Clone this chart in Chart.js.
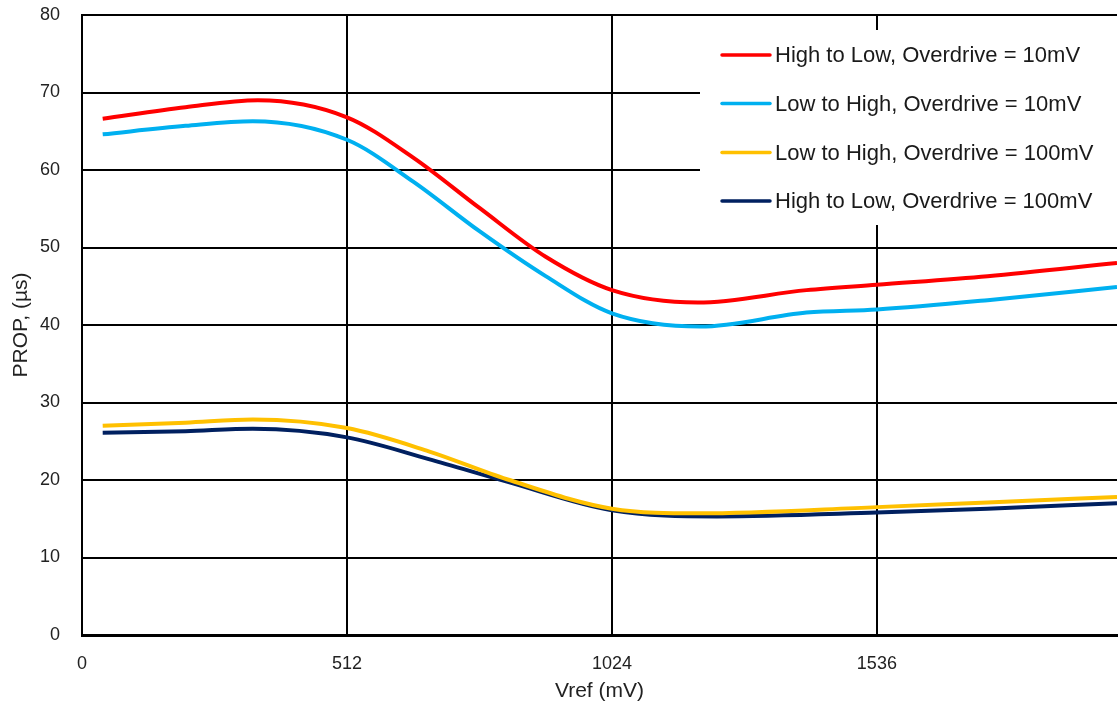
<!DOCTYPE html>
<html>
<head>
<meta charset="utf-8">
<script src="https://cdn.jsdelivr.net/npm/chart.js@4/dist/chart.umd.min.js"></script>
<style>
html,body{margin:0;padding:0;background:#fff;}
#wrap{width:1119px;height:704px;position:relative;}
</style>
</head>
<body>
<div id="wrap"><canvas id="c" width="1119" height="704"></canvas></div>
<script>
// ---- data ----
const xTicks = [0, 512, 1024, 1536];
const yTicks = [0, 10, 20, 30, 40, 50, 60, 70, 80];
const seriesNames = [
  "High to Low, Overdrive = 10mV",
  "Low to High, Overdrive = 10mV",
  "Low to High, Overdrive = 100mV",
  "High to Low, Overdrive = 100mV"
];
const seriesColors = ["#FF0000", "#00B0F0", "#FFC000", "#002060"];

const hl10X = [40, 200, 340, 512, 640, 768, 896, 1024, 1190, 1400, 1536, 1750, 2000];
const hl10Y = [66.6, 68.1, 69.0, 66.8, 61.6, 55.1, 48.8, 44.5, 42.9, 44.5, 45.2, 46.3, 48.0];

const lh10X = [40, 200, 330, 512, 640, 768, 896, 1024, 1195, 1400, 1536, 1750, 2000];
const lh10Y = [64.6, 65.7, 66.3, 63.9, 58.5, 52.1, 46.3, 41.5, 39.8, 41.6, 42.0, 43.2, 44.9];

const lh100X = [40, 200, 330, 512, 670, 821, 1024, 1192, 1536, 1750, 2000];
const lh100Y = [27.0, 27.4, 27.8, 26.7, 23.7, 20.1, 16.3, 15.7, 16.5, 17.1, 17.8];

const hl100X = [40, 200, 330, 512, 670, 821, 1024, 1227, 1536, 1750, 2000];
const hl100Y = [26.1, 26.3, 26.6, 25.5, 22.7, 19.8, 16.1, 15.3, 15.8, 16.3, 17.0];

const xs = [hl10X, lh10X, lh100X, hl100X];
const ys = [hl10Y, lh10Y, lh100Y, hl100Y];

const FONT = '"Liberation Sans", Arial, sans-serif';

// ---- legend plugin (drawn inside plot area with white background) ----
const insideLegend = {
  id: 'insideLegend',
  afterDatasetsDraw(chart) {
    const ctx = chart.ctx;
    const area = chart.chartArea;
    ctx.save();
    ctx.fillStyle = '#fff';
    ctx.fillRect(700, 30, area.right - 700 + 2, 195);
    const rowsY = [55, 103.5, 152.5, 201];
    ctx.font = '22px ' + FONT;
    ctx.textBaseline = 'middle';
    ctx.textAlign = 'left';
    seriesNames.forEach((n, i) => {
      ctx.strokeStyle = seriesColors[i];
      ctx.lineWidth = 3.5;
      ctx.lineCap = 'round';
      ctx.beginPath();
      ctx.moveTo(722, rowsY[i]);
      ctx.lineTo(770, rowsY[i]);
      ctx.stroke();
      ctx.fillStyle = '#1a1a1a';
      ctx.fillText(n, 775, rowsY[i] + 1);
    });
    ctx.restore();
  }
};

const datasets = seriesNames.map((n, i) => ({
  label: n,
  data: xs[i].map((x, j) => ({x: x, y: ys[i][j]})),
  borderColor: seriesColors[i],
  backgroundColor: seriesColors[i],
  borderWidth: 4,
  pointRadius: 0,
  cubicInterpolationMode: 'monotone',
  fill: false
}));

new Chart(document.getElementById('c'), {
  type: 'line',
  data: { datasets: datasets },
  options: {
    responsive: false,
    animation: false,
    devicePixelRatio: 1,
    layout: { padding: { top: 15, right: 2, left: 0, bottom: 0 } },
    plugins: { legend: { display: false }, tooltip: { enabled: false } },
    scales: {
      x: {
        type: 'linear',
        min: 0, max: 2000,
        afterBuildTicks: s => { s.ticks = xTicks.map(v => ({value: v})); },
        afterFit: s => { s.height = 69; s.paddingLeft = 0; s.paddingRight = 0; },
        grid: { color: '#000', lineWidth: 2, drawTicks: false },
        border: { color: '#000', width: 3 },
        ticks: { color: '#222', padding: 18, maxRotation: 0,
                 callback: v => String(v),
                 font: { family: FONT, size: 18 } },
        title: { display: true, text: 'Vref (mV)', color: '#222', padding: { top: 0, bottom: 0 },
                 font: { family: FONT, size: 21 } }
      },
      y: {
        min: 0, max: 80,
        afterBuildTicks: s => { s.ticks = yTicks.map(v => ({value: v})); },
        afterFit: s => { s.width = 82; s.paddingTop = 0; s.paddingBottom = 0; },
        grid: { color: '#000', lineWidth: 2, drawTicks: false },
        border: { color: '#000', width: 2 },
        ticks: { color: '#222', padding: 22,
                 callback: v => String(v),
                 font: { family: FONT, size: 18 } },
        title: { display: true, text: 'PROP, (µs)', color: '#222', padding: { top: 9, bottom: 0 },
                 font: { family: FONT, size: 21 } }
      }
    }
  },
  plugins: [insideLegend]
});
</script>
</body>
</html>
